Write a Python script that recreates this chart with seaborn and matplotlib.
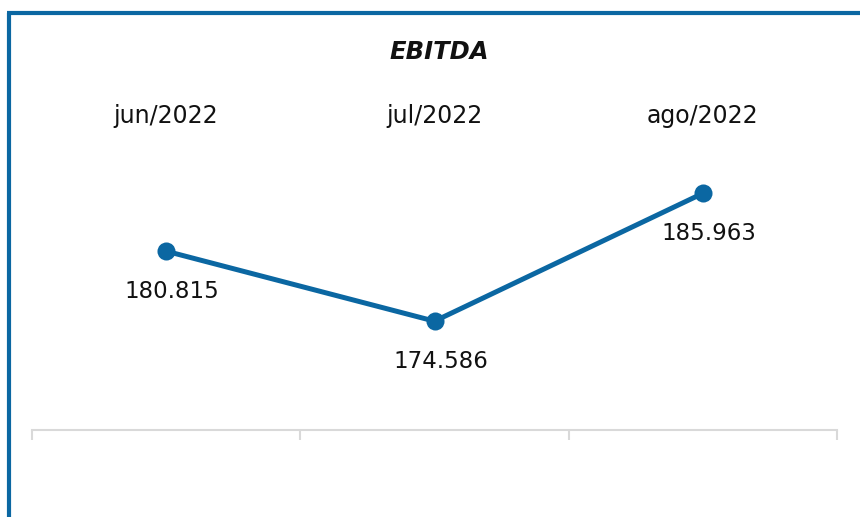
import pandas as pd
import seaborn as sns
import matplotlib.pyplot as plt
from matplotlib.lines import Line2D

# data
months = ["jun/2022", "jul/2022", "ago/2022"]
ebitda = [180.815, 174.586, 185.963]
labels = ["180.815", "174.586", "185.963"]

df = pd.DataFrame({"mes": range(len(months)), "ebitda": ebitda})

sns.set_style("white")
plt.rcParams['font.family'] = ['DejaVu Sans']

W, H = 860, 517
fig = plt.figure(figsize=(8.6, 5.17), dpi=100)
ax = fig.add_axes([32 / W, (H - 430) / H, (837 - 32) / W, 300 / H])

blue = "#0B67A2"
sns.lineplot(data=df, x="mes", y="ebitda", ax=ax, color=blue, linewidth=3.6,
             marker="o", markersize=13, markeredgewidth=0)

ax.set_xlim(-0.5, 2.5)
ax.set_ylim(164.9, 191.6)

for i, (v, lab) in enumerate(zip(ebitda, labels)):
    ax.annotate(lab, (i, v), xytext=(6, -40), textcoords="offset pixels",
                ha="center", va="center", fontsize=16.5, color="#111111")

# month labels at top (~116 px from top)
for i, m in enumerate(months):
    ax.text(i, 1.047, m, transform=ax.get_xaxis_transform(), ha="center",
            va="center", fontsize=17, color="#111111")

# axis: only bottom line with ticks
for s in ["top", "left", "right"]:
    ax.spines[s].set_visible(False)
ax.spines["bottom"].set_color("#D9D9D9")
ax.spines["bottom"].set_linewidth(1.5)
ax.set_xticks([-0.5, 0.5, 1.5, 2.5])
ax.set_xticklabels([])
ax.tick_params(axis="x", length=7, width=1.5, color="#D9D9D9", bottom=True)
ax.set_yticks([])
ax.set_xlabel("")
ax.set_ylabel("")

fig.text(439 / W, 1 - 52 / H, "EBITDA", ha="center", va="center",
         fontsize=17.5, fontweight="bold", fontstyle="italic", color="#111111")

# blue frame on left and top
fig.add_artist(Line2D([9 / W, 9 / W], [0, 1 - 12.5 / H], color=blue, linewidth=3,
                      solid_capstyle="butt", transform=fig.transFigure))
fig.add_artist(Line2D([7 / W, 1], [1 - 12.5 / H, 1 - 12.5 / H], color=blue, linewidth=3,
                      solid_capstyle="butt", transform=fig.transFigure))

fig.savefig("out.png", dpi=100)
